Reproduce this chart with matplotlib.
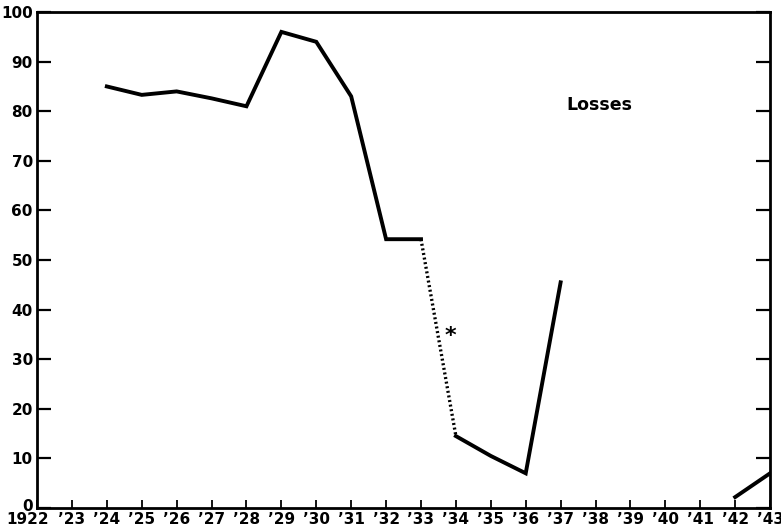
import matplotlib.pyplot as plt
import matplotlib.transforms as mtransforms

years = [1924, 1925, 1926, 1927, 1928, 1929, 1930, 1931, 1932, 1933]
losses = [85, 83.3, 84, 82.6, 81, 96, 94, 83, 54.2, 54.2]

gap_years = [1933, 1934]
gap_losses = [54.2, 14.5]

later_years = [1934, 1935, 1936, 1937]
later_losses = [14.5, 10.5, 7, 45.5]

war_years = [1942, 1943]
war_losses = [2.2, 7]

tick_years = list(range(1922, 1944))
tick_labels = ["1922"] + ["\u2019%02d" % (y % 100) for y in tick_years[1:]]

fig = plt.figure(figsize=(7.81, 5.31), dpi=100)
ax = fig.add_axes([0.0474, 0.0433, 0.9386, 0.934])

ax.plot(years, losses, color="black", lw=2.8, solid_joinstyle="miter")
ax.plot(gap_years, gap_losses, color="black", lw=2.4, linestyle=(0, (0.6, 0.8)))
ax.plot(later_years, later_losses, color="black", lw=2.8, solid_joinstyle="miter")
ax.plot(war_years, war_losses, color="black", lw=2.8)

ax.text(1933.83, 34.6, "*", fontsize=16, fontweight="bold", ha="center", va="center")
ax.text(1938.1, 81.3, "Losses", fontsize=12.5, fontweight="bold", ha="center", va="center")

ax.set_xlim(1922, 1943)
ax.set_ylim(0, 100)
ax.set_xticks(tick_years)
ax.set_xticklabels(tick_labels)
ax.set_yticks(range(0, 101, 10))

for s in ax.spines.values():
    s.set_linewidth(2)
ax.tick_params(axis="x", direction="in", length=6, width=1.3, pad=3, labelsize=11)
ax.tick_params(axis="y", direction="in", length=10, width=1.6, pad=3, labelsize=11,
               right=True)
for lab in ax.get_xticklabels() + ax.get_yticklabels():
    lab.set_fontweight("bold")

# first year label sits a little to the left of its tick
first = ax.get_xticklabels()[0]
first.set_transform(first.get_transform() +
                    mtransforms.ScaledTranslation(-0.09, 0, fig.dpi_scale_trans))
ax.get_yticklabels()[0].set_transform(
    ax.get_yticklabels()[0].get_transform() +
    mtransforms.ScaledTranslation(0, 0.03, fig.dpi_scale_trans))

fig.savefig("out.png", dpi=100)
